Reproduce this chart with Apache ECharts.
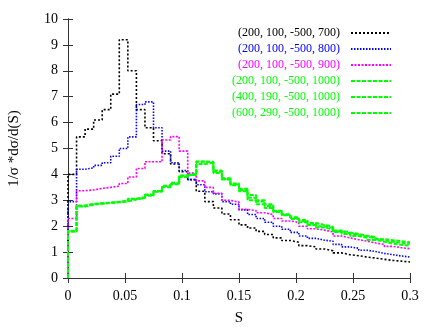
<!DOCTYPE html>
<html>
<head>
<meta charset="utf-8">
<script src="https://cdn.jsdelivr.net/npm/echarts@6/dist/echarts.min.js"></script>
<style>
  html, body { margin: 0; padding: 0; background: #fff; }
  #chart { width: 436px; height: 327px; }
</style>
</head>
<body>
<div id="chart"></div>
<script>
// bin edges in S
var binEdges = [0, 0.0075, 0.015, 0.0225, 0.03, 0.0375, 0.045, 0.0525, 0.06, 0.0675,
  0.075, 0.0825, 0.09, 0.0975, 0.105, 0.1125, 0.12, 0.1275, 0.135, 0.1425,
  0.15, 0.1575, 0.165, 0.1725, 0.18, 0.1875, 0.195, 0.2025, 0.21, 0.2175,
  0.225, 0.2325, 0.24, 0.2475, 0.255, 0.2625, 0.27, 0.2775, 0.285, 0.2925, 0.3];

var seriesNames = ['(200, 100, -500, 700)', '(200, 100, -500, 800)', '(200, 100, -500, 900)',
  '(200, 100, -500, 1000)', '(400, 190, -500, 1000)', '(600, 290, -500, 1000)'];

var m700 = [4.0, 5.45, 5.75, 6.1, 6.5, 7.1, 9.2, 8.0, 6.5, 5.8,
  5.3, 4.8, 4.4, 4.1, 3.8, 3.35, 2.95, 2.7, 2.47, 2.25,
  2.05, 1.93, 1.8, 1.68, 1.55, 1.45, 1.38, 1.25, 1.2, 1.12,
  1.05, 0.97, 0.9, 0.86, 0.81, 0.77, 0.72, 0.68, 0.65, 0.62];

var m800 = [2.95, 4.2, 4.25, 4.35, 4.45, 4.7, 5.0, 5.45, 6.7, 6.8,
  5.8, 4.9, 4.45, 4.15, 3.8, 3.6, 3.33, 3.25, 2.95, 2.85,
  2.63, 2.45, 2.3, 2.15, 2.0, 1.88, 1.76, 1.62, 1.53, 1.46,
  1.42, 1.3, 1.2, 1.15, 1.07, 1.02, 0.95, 0.9, 0.85, 0.81];

var m900 = [2.3, 3.37, 3.4, 3.46, 3.5, 3.55, 3.65, 3.9, 4.23, 4.49,
  4.49, 5.33, 5.46, 4.9, 4.05, 3.75, 3.5, 3.27, 3.0, 2.93,
  2.65, 2.6, 2.52, 2.45, 2.3, 2.2, 2.15, 2.0, 1.9, 1.85,
  1.78, 1.62, 1.55, 1.48, 1.42, 1.35, 1.3, 1.22, 1.17, 1.13];

var m1000a = [1.8, 2.78, 2.85, 2.88, 2.9, 2.93, 2.97, 3.05, 3.1, 3.2,
  3.35, 3.55, 3.65, 3.95, 4.0, 4.49, 4.49, 4.15, 3.8, 3.58,
  3.35, 3.2, 3.0, 2.85, 2.6, 2.45, 2.35, 2.24, 2.12, 2.05,
  1.98, 1.83, 1.76, 1.7, 1.63, 1.58, 1.5, 1.46, 1.42, 1.38];

var m1000b = [1.8, 2.76, 2.83, 2.87, 2.9, 2.92, 2.96, 3.03, 3.1, 3.18,
  3.33, 3.5, 3.62, 3.9, 3.98, 4.4, 4.45, 4.05, 3.85, 3.65,
  3.45, 3.0, 2.85, 2.7, 2.55, 2.42, 2.28, 2.15, 2.05, 1.95,
  1.88, 1.78, 1.7, 1.62, 1.55, 1.47, 1.4, 1.33, 1.28, 1.25];

var m1000c = [1.82, 2.8, 2.86, 2.89, 2.91, 2.94, 2.98, 3.06, 3.12, 3.22,
  3.36, 3.56, 3.68, 3.96, 4.02, 4.5, 4.46, 4.1, 3.82, 3.62,
  3.4, 3.1, 2.95, 2.78, 2.58, 2.45, 2.32, 2.2, 2.1, 2.0,
  1.93, 1.8, 1.73, 1.66, 1.6, 1.53, 1.46, 1.4, 1.36, 1.32];

var xTicks = [0, 0.05, 0.1, 0.15, 0.2, 0.25, 0.3];
var yTicks = [0, 1, 2, 3, 4, 5, 6, 7, 8, 9, 10];

var allValues = [m700, m800, m900, m1000a, m1000b, m1000c];
var colors = ['#000000', '#0000ff', '#ff00ff', '#00ff00', '#00ff00', '#00ff00'];
var dashes = [[2, 2], [1.5, 1.5], [2, 1.5], [4, 1.5], [4, 1.5], [4, 1.5]];
var widths = [1.6, 1.6, 1.6, 2, 2, 2];

function stepData(vals) {
    var d = [[0, 0]];
    for (var i = 0; i < vals.length; i++) {
        d.push([binEdges[i], vals[i]]);
    }
    d.push([binEdges[binEdges.length - 1], vals[vals.length - 1]]);
    return d;
}

var chart = echarts.init(document.getElementById('chart'));

var axisCol = '#333333';
var fontFam = '"Liberation Serif", "DejaVu Serif", serif';

var series = seriesNames.map(function (name, k) {
    return {
        name: name,
        type: 'line',
        step: 'end',
        symbol: 'none',
        xAxisIndex: 0,
        yAxisIndex: 0,
        data: stepData(allValues[k]),
        lineStyle: { color: colors[k], width: widths[k], type: dashes[k] },
        itemStyle: { color: colors[k] },
        animation: false
    };
});

var option = {
    animation: false,
    grid: { left: 68, right: 26, top: 19, bottom: 49, containLabel: false, outerBoundsMode: 'none' },
    legend: {
        data: seriesNames.map(function (n, k) {
            return { name: n, textStyle: { color: colors[k] }, itemStyle: { opacity: 0 } };
        }),
        orient: 'vertical',
        align: 'right',
        right: 44,
        top: 26,
        padding: 0,
        itemWidth: 40,
        itemHeight: 10,
        itemGap: 2,
        textStyle: { fontFamily: fontFam, fontSize: 12, lineHeight: 14, padding: [0, 6, 0, 0] }
    },
    xAxis: [
        {
            type: 'value', min: 0, max: 0.3, interval: 0.05,
            name: 'S', nameLocation: 'middle', nameGap: 33,
            nameTextStyle: { fontFamily: fontFam, fontSize: 15, color: '#000' },
            axisLine: { show: true, lineStyle: { color: axisCol, width: 1 } },
            axisTick: { show: true, inside: true, length: 5, lineStyle: { color: axisCol } },
            axisLabel: {
                fontFamily: fontFam, fontSize: 14, color: '#000', margin: 11,
                formatter: function (v) { return String(+v.toFixed(2)); }
            },
            splitLine: { show: false }
        },
        {
            type: 'value', min: 0, max: 0.3, interval: 0.05, position: 'top',
            axisLine: { show: true, lineStyle: { color: axisCol, width: 1 } },
            axisTick: { show: true, inside: true, length: 5, lineStyle: { color: axisCol } },
            axisLabel: { show: false },
            splitLine: { show: false }
        }
    ],
    yAxis: [
        {
            type: 'value', min: 0, max: 10, interval: 1,
            name: '1/σ *dσ/d(S)', nameLocation: 'middle', nameGap: 46, nameRotate: 90,
            nameTextStyle: { fontFamily: fontFam, fontSize: 15, color: '#000' },
            axisLine: { show: true, lineStyle: { color: axisCol, width: 1 } },
            axisTick: { show: true, inside: true, length: 5, lineStyle: { color: axisCol } },
            axisLabel: { fontFamily: fontFam, fontSize: 14, color: '#000', margin: 10 },
            splitLine: { show: false }
        },
        {
            type: 'value', min: 0, max: 10, interval: 1, position: 'right',
            axisLine: { show: true, lineStyle: { color: axisCol, width: 1 } },
            axisTick: { show: true, inside: true, length: 5, lineStyle: { color: axisCol } },
            axisLabel: { show: false },
            splitLine: { show: false }
        }
    ],
    series: series
};

chart.setOption(option);
</script>
</body>
</html>
